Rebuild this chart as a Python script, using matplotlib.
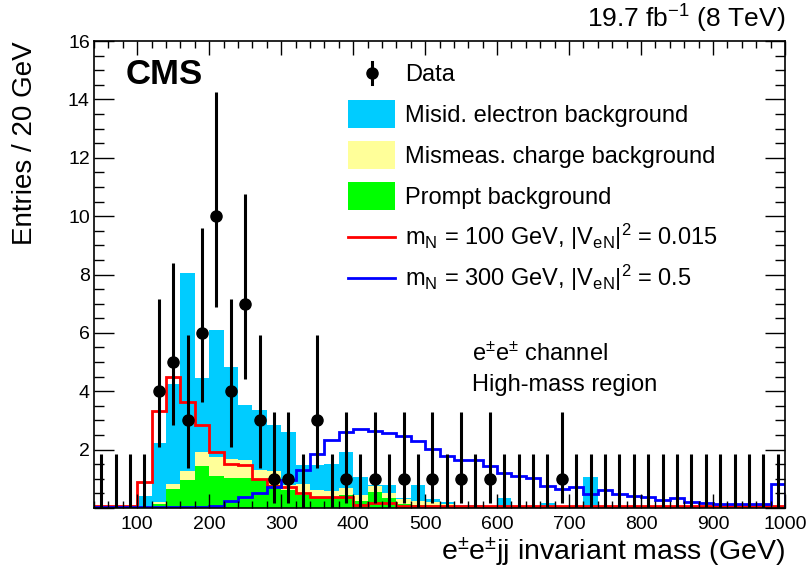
import math
import numpy as np
import matplotlib
matplotlib.use("Agg")
import matplotlib.pyplot as plt
from matplotlib.patches import Rectangle
from matplotlib.lines import Line2D
from matplotlib.ticker import MultipleLocator

plt.rcParams['font.family'] = ['Liberation Sans', 'DejaVu Sans']
plt.rcParams['mathtext.default'] = 'regular'

# 20 GeV bins from 40 to 1000 GeV
edges = np.arange(40, 1001, 20)

data = [0, 0, 0, 0, 4, 5, 3, 6, 10, 4, 7, 3, 1, 1, 0, 3, 0, 1, 0, 1, 0, 1, 0, 1,
        0, 1, 0, 1, 0, 0, 0, 0, 1, 0, 0, 0, 0, 0, 0, 0, 0, 0, 0, 0, 0, 0, 0, 0]

prompt = [0, 0, 0, 0, 0.14, 0.64, 0.96, 1.45, 1.10, 1.02, 1.02, 0.96, 0.79, 0.62, 0.45, 0.39,
          0.34, 0.45, 0.25, 0.55, 0.35, 0.15, 0.10, 0.10, 0.05, 0.04, 0.03, 0.03, 0.03, 0.02, 0.02, 0.02,
          0.02, 0.02, 0.02, 0.02, 0.01, 0.01, 0.01, 0.01, 0.01, 0.01, 0.01, 0.01, 0.01, 0.01, 0.01, 0.01]

mismeas = [0, 0, 0, 0.03, 0.08, 0.17, 0.32, 0.48, 0.66, 0.65, 0.61, 0.34, 0.49, 0.17, 0.38, 0.21,
           0.23, 0.25, 0.20, 0.20, 0.15, 0.15, 0.15, 0.10, 0.10, 0.04, 0.03, 0.02, 0.02, 0.02, 0.02, 0.02,
           0.01, 0.01, 0.01, 0.01, 0.01, 0.01, 0.01, 0.01, 0.01, 0.01, 0.01, 0.01, 0.01, 0.01, 0.01, 0.01]

misid = [0, 0, 0, 0.37, 2.02, 3.44, 6.78, 2.52, 4.33, 3.16, 1.90, 2.06, 1.58, 1.80, 0.65, 0.87,
         0.93, 1.23, 0.60, 0.05, 0.28, 0.05, 0.54, 0.10, 0.05, 0.02, 0.04, 0.00, 0.29, 0.01, 0.01, 0.13,
         0.02, 0.02, 1.02, 0.02, 0.00, 0.00, 0.00, 0.00, 0.00, 0.00, 0.00, 0.00, 0.00, 0.00, 0.00, 0.00]

sig100 = [0.07, 0.07, 0.07, 0.90, 3.33, 4.48, 3.62, 2.85, 1.91, 1.50, 1.47, 0.98, 0.75, 0.71, 0.50, 0.37,
          0.37, 0.37, 0.10, 0.18, 0.18, 0.07, 0.07, 0.07, 0.07, 0.07, 0.07, 0.07, 0.07, 0.07, 0.07, 0.07,
          0.07, 0.07, 0.07, 0.07, 0.07, 0.07, 0.07, 0.07, 0.07, 0.07, 0.07, 0.07, 0.07, 0.07, 0.07, 0.07]

sig300 = [0.02, 0.02, 0.02, 0.02, 0.02, 0.02, 0.02, 0.05, 0.07, 0.25, 0.39, 0.53, 0.71, 0.96, 1.30, 1.85,
          2.33, 2.62, 2.70, 2.64, 2.56, 2.47, 2.28, 2.01, 1.79, 1.65, 1.65, 1.44, 1.19, 1.08, 1.02, 0.76,
          0.64, 0.73, 0.48, 0.62, 0.48, 0.42, 0.39, 0.27, 0.33, 0.20, 0.16, 0.13, 0.13, 0.13, 0.13, 0.82]

legend_labels = ['Data',
                 'Misid. electron background',
                 'Mismeas. charge background',
                 'Prompt background',
                 r'm$_{N}$ = 100 GeV, |V$_{eN}$|$^{2}$ = 0.015',
                 r'm$_{N}$ = 300 GeV, |V$_{eN}$|$^{2}$ = 0.5']


def pois_cdf(k, mu):
    s, term = 0.0, math.exp(-mu)
    for i in range(k + 1):
        if i > 0:
            term *= mu / i
        s += term
    return s


def garwood(n, a=0.158655):
    # lower edge
    if n == 0:
        lo = 0.0
    else:
        l, h = 0.0, float(n)
        for _ in range(60):
            m = 0.5 * (l + h)
            if 1 - pois_cdf(n - 1, m) < a:
                l = m
            else:
                h = m
        lo = 0.5 * (l + h)
    l, h = float(n), n + 30.0
    for _ in range(60):
        m = 0.5 * (l + h)
        if pois_cdf(n, m) > a:
            l = m
        else:
            h = m
    return lo, 0.5 * (l + h)


centers = 0.5 * (edges[:-1] + edges[1:])
data = np.array(data, dtype=float)
lims = np.array([garwood(int(n)) for n in data])
err_lo = data - lims[:, 0]
err_hi = lims[:, 1] - data

prompt = np.array(prompt)
mismeas = np.array(mismeas)
misid = np.array(misid)
s1 = prompt
s2 = prompt + mismeas
s3 = s2 + misid

W, H = 809, 571
fig = plt.figure(figsize=(W / 100, H / 100), dpi=100)
ax = fig.add_axes([94 / W, 1 - 508 / H, 691 / W, 467 / H])

c_misid = '#00ccff'
c_mism = '#ffff99'
c_prompt = '#00ff00'
c_red = '#ff0000'
c_blue = '#0000ff'

ax.stairs(s3, edges, baseline=s2, fill=True, color=c_misid, lw=0)
ax.stairs(s2, edges, baseline=s1, fill=True, color=c_mism, lw=0)
ax.stairs(s1, edges, baseline=0, fill=True, color=c_prompt, lw=0)

ax.stairs(sig100, edges, color=c_red, lw=2)
ax.stairs(sig300, edges, color=c_blue, lw=2)

# zero-count bins: error bar only, no marker
zero = data == 0
ax.errorbar(centers[zero], data[zero], yerr=[err_lo[zero], err_hi[zero]],
            fmt='none', ecolor='black', elinewidth=2.2, capsize=0, zorder=5)
ax.errorbar(centers[~zero], data[~zero], yerr=[err_lo[~zero], err_hi[~zero]],
            fmt='o', color='black', ms=8, elinewidth=2.2, capsize=0, zorder=6)

ax.set_xlim(40, 1000)
ax.set_ylim(0, 16)
ax.xaxis.set_major_locator(MultipleLocator(100))
ax.xaxis.set_minor_locator(MultipleLocator(20))
ax.set_yticks(np.arange(0, 17, 2))
ax.set_yticklabels([''] + [str(v) for v in range(2, 17, 2)])
ax.yaxis.set_minor_locator(MultipleLocator(0.5))
ax.tick_params(which='both', direction='in', top=True, right=True, labelsize=14, width=1)
ax.tick_params(axis='x', which='major', length=10, pad=6)
ax.tick_params(axis='x', which='minor', length=5)
ax.tick_params(axis='y', which='major', length=14.5, pad=3)
ax.tick_params(axis='y', which='minor', length=7)
for sp in ax.spines.values():
    sp.set_linewidth(1.2)

ax.set_xlabel(r'e$^{\pm}$e$^{\pm}$jj invariant mass (GeV)', fontsize=20.5, loc='right')
ax.xaxis.set_label_coords(1.0, -0.058)
ax.set_ylabel('Entries / 20 GeV', fontsize=20, loc='top')
ax.yaxis.set_label_coords(-0.081, 1.0)

ax.text(0.046, 0.928, 'CMS', transform=ax.transAxes, fontsize=25, fontweight='bold', va='center')
ax.text(1.0, 1.028, r'19.7 fb$^{-1}$ (8 TeV)', transform=ax.transAxes, fontsize=19,
        ha='right', va='baseline')
ax.text(0.547, 0.33, r'e$^{\pm}$e$^{\pm}$ channel', transform=ax.transAxes, fontsize=17, va='center')
ax.text(0.547, 0.263, 'High-mass region', transform=ax.transAxes, fontsize=17, va='center')

# legend, one row every 41 px starting at y = 73 px
fx = lambda px: px / W
fy = lambda py: 1 - py / H
box_l, box_r, txt_x = 348, 395, 405
for i, lab in enumerate(legend_labels):
    yc = 73 + 41 * i
    if i == 0:
        fig.add_artist(Line2D([fx(372), fx(372)], [fy(yc - 11), fy(yc + 11)],
                              color='black', lw=2.2))
        fig.add_artist(Line2D([fx(372)], [fy(yc)], marker='o', ms=8, color='black'))
    elif i <= 3:
        col = [c_misid, c_mism, c_prompt][i - 1]
        fig.add_artist(Rectangle((fx(box_l), fy(yc + 14)), fx(box_r) - fx(box_l),
                                 28 / H, facecolor=col, edgecolor='none'))
    else:
        col = c_red if i == 4 else c_blue
        fig.add_artist(Line2D([fx(box_l), fx(box_r)], [fy(yc), fy(yc)], color=col, lw=2))
    fig.text(fx(txt_x), fy(yc + 8), lab, fontsize=17, va='baseline')

fig.savefig('out.png', dpi=100)
